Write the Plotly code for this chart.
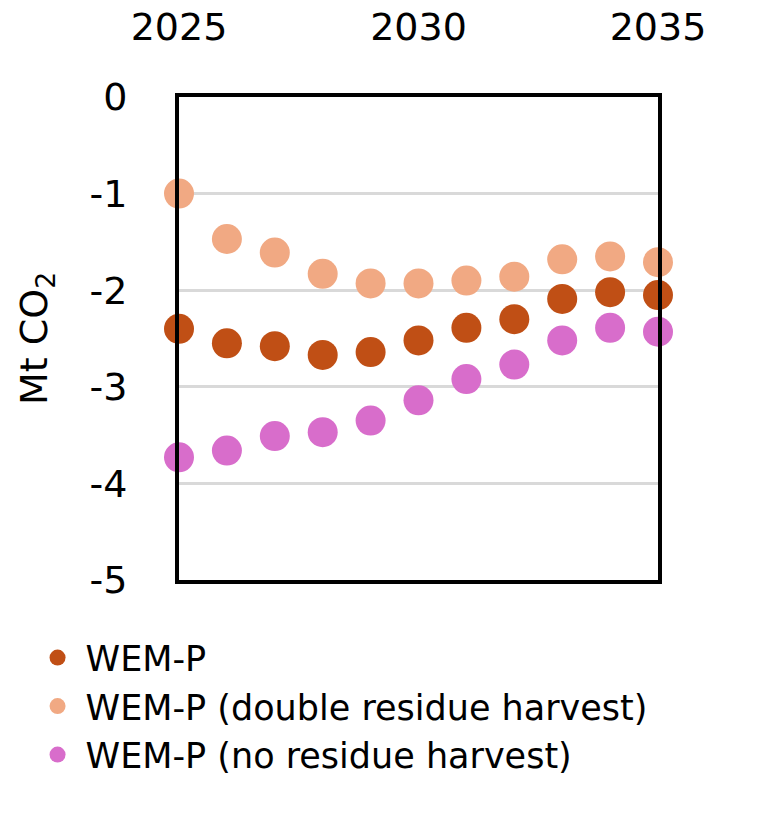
import plotly.graph_objects as go

years = [2025, 2026, 2027, 2028, 2029, 2030, 2031, 2032, 2033, 2034, 2035]
wem_p = [-2.40, -2.55, -2.58, -2.67, -2.64, -2.52, -2.39, -2.30, -2.09, -2.02, -2.05]
wem_p_double = [-1.00, -1.47, -1.61, -1.83, -1.93, -1.93, -1.90, -1.86, -1.68, -1.65, -1.71]
wem_p_none = [-3.73, -3.66, -3.51, -3.47, -3.35, -3.14, -2.92, -2.77, -2.52, -2.39, -2.43]

x_ticks = [2025, 2030, 2035]
y_ticks = [-5, -4, -3, -2, -1, 0]
y_ticktext = [str(v) for v in y_ticks]  # plain hyphen-minus as in the reference

series = [
    ("WEM-P", wem_p, "#C04F15"),
    ("WEM-P (double residue harvest)", wem_p_double, "#F1A983"),
    ("WEM-P (no residue harvest)", wem_p_none, "#D86DCB"),
]

FONT = "DejaVu Sans"

fig = go.Figure()
for name, vals, color in series:
    fig.add_trace(go.Scatter(
        x=years, y=vals, name=name, mode="markers",
        marker=dict(size=30, color=color),
        cliponaxis=False,
    ))

fig.update_layout(
    width=779, height=821,
    margin=dict(l=179, r=121, t=97, b=241, autoexpand=False),
    paper_bgcolor="white", plot_bgcolor="white",
    font=dict(family=FONT, size=38, color="black"),
    showlegend=True,
    legend=dict(
        x=-0.312, xanchor="left", y=-0.10, yanchor="top",
        font=dict(family=FONT, size=35, color="black"),
        tracegroupgap=0, itemsizing="trace", itemwidth=46,
        bgcolor="rgba(0,0,0,0)",
    ),
    xaxis=dict(
        side="top", range=[2025, 2035], tickvals=x_ticks,
        showgrid=False, zeroline=False, automargin=False,
        showline=True, linecolor="black", linewidth=4, mirror=True,
        ticks="", ticklabelstandoff=38,
        tickfont=dict(family=FONT, size=38),
    ),
    yaxis=dict(
        range=[-5, 0], tickvals=y_ticks, ticktext=y_ticktext,
        showgrid=True, gridcolor="#D9D9D9", gridwidth=3,
        zeroline=False, automargin=False,
        showline=True, linecolor="black", linewidth=4, mirror=True,
        ticks="", ticklabelstandoff=40,
        tickfont=dict(family=FONT, size=38),
        title=dict(text="Mt CO<sub>2</sub>", font=dict(family=FONT, size=38), standoff=31),
    ),
)

fig.write_html("out.html")
